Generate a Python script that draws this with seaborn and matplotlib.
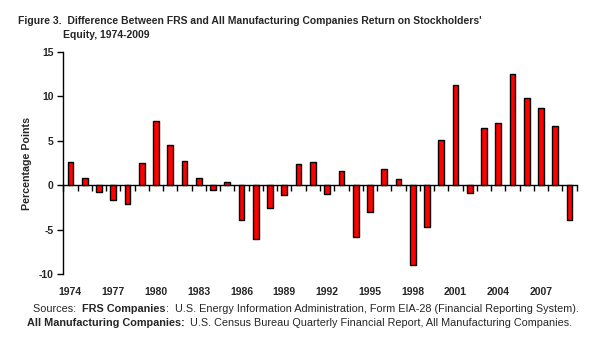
import matplotlib
matplotlib.use("Agg")
import matplotlib.pyplot as plt
import numpy as np
import pandas as pd
import seaborn as sns

# Difference in return on stockholders' equity (FRS minus all manufacturing), percentage points
years = list(range(1974, 2010))
diff_values = [
    2.6, 0.8, -0.8, -1.6, -2.1, 2.5, 7.2, 4.5, 2.7, 0.8,
    -0.5, 0.4, -3.9, -6.0, -2.6, -1.1, 2.4, 2.6, -1.0, 1.6,
    -5.8, -3.0, 1.8, 0.7, -8.9, -4.7, 5.1, 11.3, -0.9, 6.4,
    7.0, 12.5, 9.8, 8.7, 6.6, -3.9,
]
label_years = years[::3]
y_ticks = [-10, -5, 0, 5, 10, 15]

title_line1 = "Figure 3.  Difference Between FRS and All Manufacturing Companies Return on Stockholders'"
title_line2 = "Equity, 1974-2009"
y_label = "Percentage Points"

df = pd.DataFrame({"year": [str(y) for y in years], "diff": diff_values})

sns.set_style("white")
plt.rcParams["font.family"] = ["Liberation Sans", "DejaVu Sans"]

W, H = 599, 349
fig = plt.figure(figsize=(W / 100, H / 100), dpi=100)
left, right, top, bottom = 63.3, 576.7, 51.7, 274.3
ax = fig.add_axes([left / W, 1 - bottom / H, (right - left) / W, (bottom - top) / H])

sns.barplot(data=df, x="year", y="diff", color="#FF0000", saturation=1,
            edgecolor="black", linewidth=1.0, width=0.4, ax=ax)

n = len(years)
ax.set_xlim(-0.5, n - 0.5)
ax.set_ylim(-10, 15)
ax.set_yticks(y_ticks)
ax.set_yticklabels([str(v) for v in y_ticks], fontsize=7.5, fontweight="bold")
ax.tick_params(axis="y", direction="out", length=4, width=1, pad=3, left=True, color="black")

# Year labels along the bottom edge, no tick marks
ax.set_xticks([years.index(y) for y in label_years])
ax.set_xticklabels([str(y) for y in label_years], fontsize=7.5, fontweight="bold")
ax.tick_params(axis="x", length=0, pad=9)
ax.set_xlabel("")
ax.set_ylabel(y_label, fontsize=7.7, fontweight="bold", labelpad=5)

for side in ["top", "right", "bottom"]:
    ax.spines[side].set_visible(False)
ax.spines["left"].set_color("black")
ax.spines["left"].set_linewidth(1)

# Zero line with tick marks at category boundaries
zero_frac = (0 - (-10)) / (15 - (-10))
sec = ax.secondary_xaxis(zero_frac)
sec.set_xticks(np.arange(-0.5, n, 1.0))
sec.set_xticklabels([])
sec.tick_params(axis="x", direction="out", length=4, width=1, color="black")
sec.spines["bottom"].set_color("black")
sec.spines["bottom"].set_linewidth(1)

# Title
fig.text(18 / W, 1 - 21 / H, title_line1, fontsize=7.5, fontweight="bold", va="center", ha="left")
fig.text(63 / W, 1 - 35.5 / H, title_line2, fontsize=7.5, fontweight="bold", va="center", ha="left")


def source_line(x_px, y_px, parts, size=7.85):
    """Write one line of text built from pieces with different weights."""
    prev = fig.text(x_px / W, 1 - y_px / H, parts[0][0], fontsize=size,
                    fontweight=parts[0][1], va="center", ha="left")
    for txt, wt in parts[1:]:
        prev = ax.annotate(txt, xy=(1, 0.5), xycoords=prev, va="center", ha="left",
                           fontsize=size, fontweight=wt, annotation_clip=False)
    return prev


source_line(33, 309, [("Sources:  ", "normal"), ("FRS Companies", "bold"),
                      (":  U.S. Energy Information Administration, Form EIA-28 (Financial Reporting System).", "normal")])
source_line(26.7, 323, [("All Manufacturing Companies:", "bold"),
                        ("  U.S. Census Bureau Quarterly Financial Report, All Manufacturing Companies.", "normal")])

fig.savefig("out.png", dpi=100, facecolor="white")
